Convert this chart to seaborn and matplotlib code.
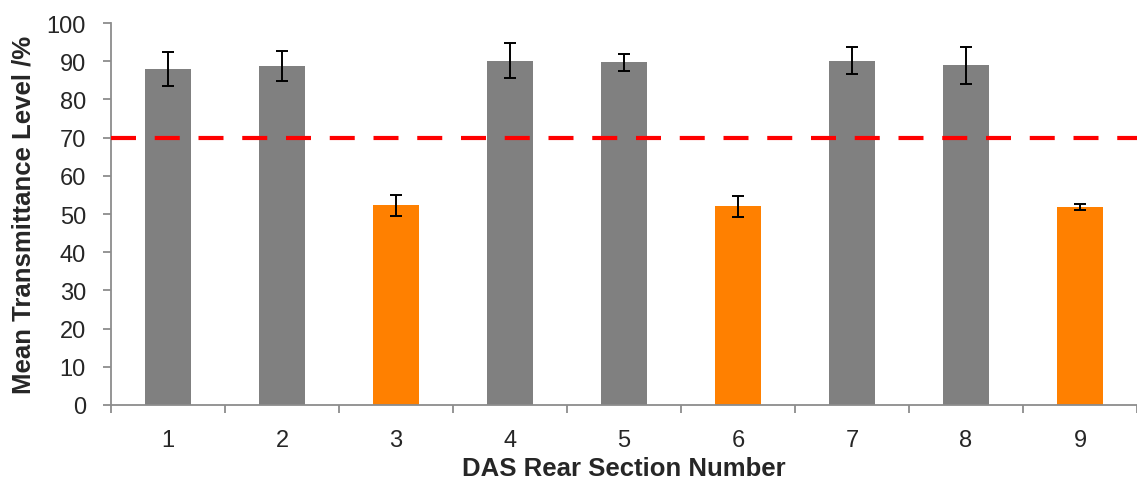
import matplotlib
matplotlib.use("Agg")
import matplotlib.pyplot as plt
import seaborn as sns
import pandas as pd

# data
sections = ["1", "2", "3", "4", "5", "6", "7", "8", "9"]
means = [88.0, 88.7, 52.3, 90.1, 89.7, 52.0, 90.1, 88.9, 51.8]
errors = [4.5, 3.9, 2.8, 4.6, 2.3, 2.8, 3.5, 4.8, 0.75]
threshold = 70

df = pd.DataFrame({"section": sections, "mean": means})
df["group"] = ["pass" if m >= threshold else "fail" for m in means]

sns.set_theme(style="white")
plt.rcParams["font.family"] = ["Liberation Sans", "DejaVu Sans"]

fig = plt.figure(figsize=(11.37, 4.81), dpi=100)
ax = fig.add_axes([0.0976, 0.156, 0.9024, 0.794])

sns.barplot(data=df, x="section", y="mean", hue="group",
            palette={"pass": "#808080", "fail": "#FF8000"},
            dodge=False, width=0.4, legend=False, edgecolor="none",
            saturation=1, ax=ax)

# error bars at bar centres
xs = sorted(p.get_x() + p.get_width() / 2 for p in ax.patches if p.get_height() > 0)
ax.errorbar(xs, means, yerr=errors, fmt="none", ecolor="black",
            elinewidth=1.4, capsize=4.5, capthick=1.4, zorder=3)

ax.axhline(threshold, color="#FF0000", lw=3, dashes=(6, 4.5), zorder=4)

ax.set_xlim(-0.5, 8.5)
ax.set_ylim(0, 100)
ax.set_yticks(range(0, 101, 10))

# ticks between categories, like the original
ax.set_xticks([i - 0.5 for i in range(10)], minor=True)
ax.tick_params(axis="x", which="major", length=0, pad=17, labelsize=17)
ax.tick_params(axis="x", which="minor", direction="out", length=6,
               width=1.3, color="#8c8c8c", bottom=True)
ax.tick_params(axis="y", direction="out", length=6, width=1.3,
               color="#8c8c8c", pad=12, labelsize=17, left=True)

for s in ["top", "right"]:
    ax.spines[s].set_visible(False)
for s in ["left", "bottom"]:
    ax.spines[s].set_color("#8c8c8c")
    ax.spines[s].set_linewidth(1.3)

ax.set_xlabel("DAS Rear Section Number", fontsize=18.5, fontweight="bold",
              labelpad=4)
ax.set_ylabel("Mean Transmittance Level /%", fontsize=18.5,
              fontweight="bold", labelpad=8)
ax.grid(False)

fig.savefig("out.png", dpi=100)
